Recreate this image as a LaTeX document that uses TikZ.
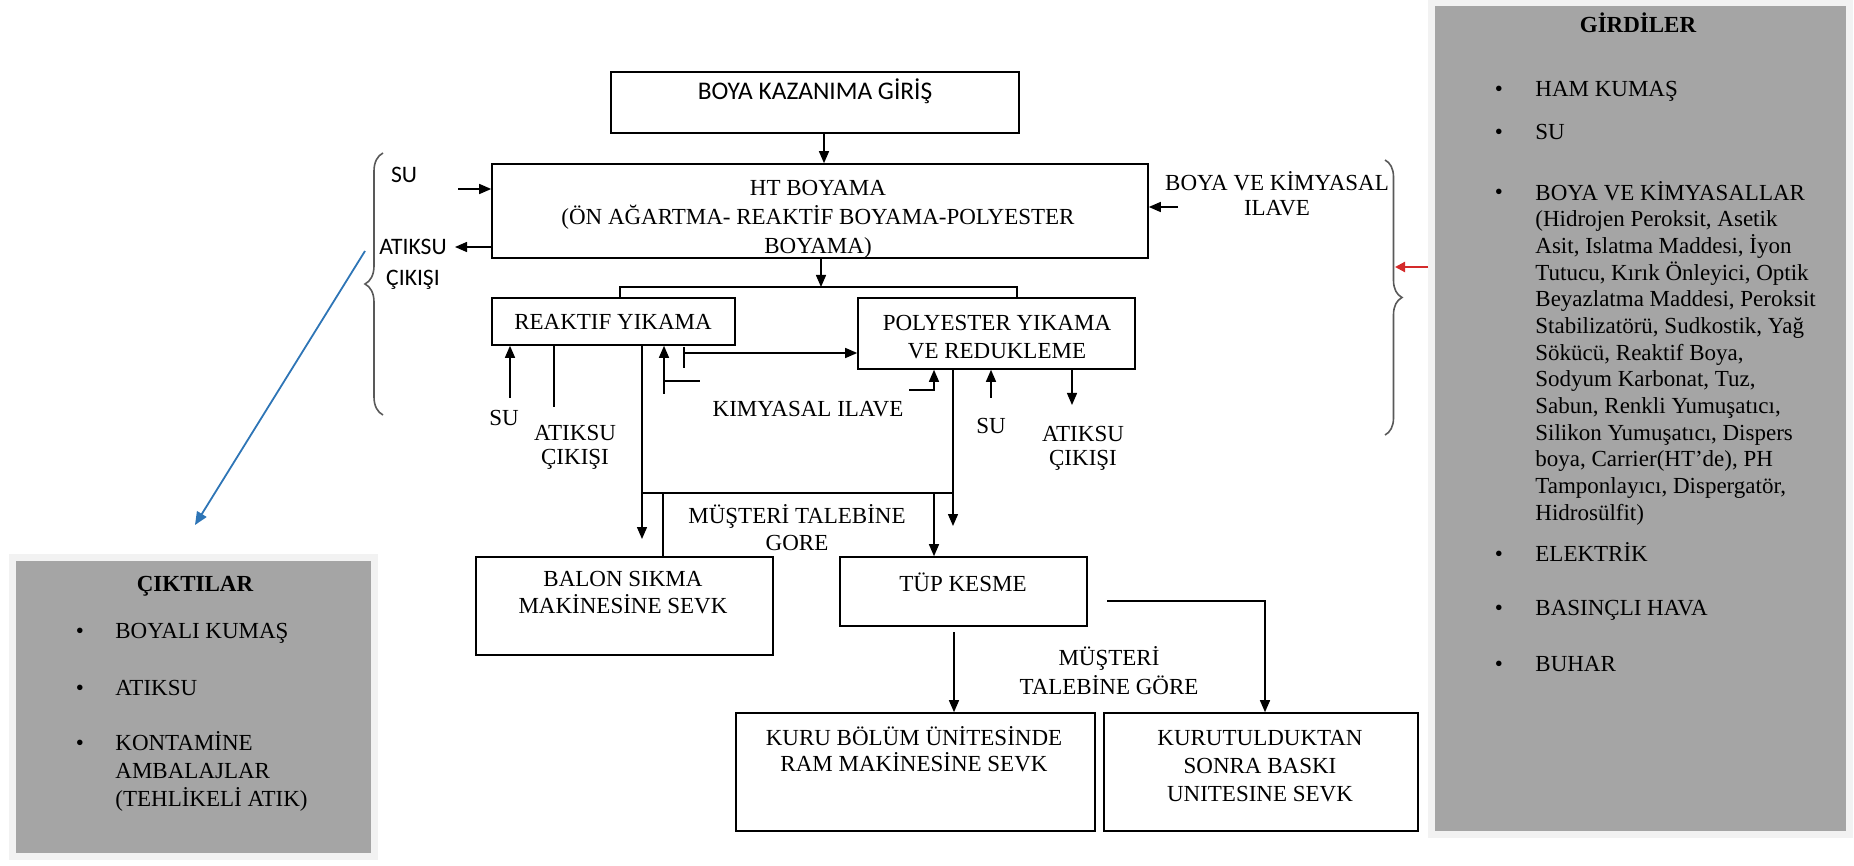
\documentclass[tikz,border=0pt]{standalone}
\usepackage{fontspec}
\setmainfont{Liberation Serif}
\newfontfamily\calibri{Carlito}
\usetikzlibrary{arrows.meta,fit,decorations.pathreplacing,shadows}
\definecolor{panelgray}{HTML}{A5A5A5}
\definecolor{framegray}{HTML}{F2F2F2}
\definecolor{bracegray}{HTML}{595959}
\definecolor{bluearr}{HTML}{2E75B6}
\definecolor{redarr}{HTML}{D42A2A}
\begin{document}
\begin{tikzpicture}[x=0.5pt,y=-0.5pt,
  box/.style={draw=black,line width=0.8pt,inner sep=0pt},
  panel/.style={fill=panelgray,draw=framegray,line width=3.5pt,inner sep=0pt,
    drop shadow={shadow xshift=1.5pt,shadow yshift=-1.5pt,fill=black!30,opacity=1}},
  txt/.style={font=\fontsize{11.5}{14}\selectfont,align=center,inner sep=0pt,anchor=base},
  btxt/.style={txt,font=\fontsize{11.5}{14}\selectfont\bfseries},
  ltxt/.style={txt,align=left,anchor=base west,font=\fontsize{11.5}{13.33}\selectfont},
  ctxt/.style={txt,font=\calibri\fontsize{11.8}{14}\selectfont},
  conn/.style={line width=0.7pt},
  arr/.style={conn,-{Triangle[length=6pt,width=5pt]}},
  brc/.style={draw=bracegray,line width=0.8pt,decorate,decoration={brace,amplitude=9pt}},
  bluearrow/.style={draw=bluearr,line width=0.9pt,-{Triangle[length=6.5pt,width=5.5pt]}},
  redarrow/.style={draw=redarr,line width=1.1pt,-{Triangle[length=5pt,width=5pt]}}
]
\useasboundingbox (0,0) rectangle (1854,866);

% ---------- panels ----------
\node[panel,fit={(12.5,557.5)(374.5,856.5)}] (cikti) {};
\node[panel,fit={(1431.5,3)(1849.5,834.5)}] (girdi) {};

% GIRDILER (multi-line nodes: base = baseline of last line)
\node[btxt] (gt) at (1638,33) {GİRDİLER};
\node[txt] (gb1) at (1499,97) {•};
\node[txt] (gb2) at (1499,140) {•};
\node[txt] (gb3) at (1499,200) {•};
\node[txt] (gb4) at (1499,561) {•};
\node[txt] (gb5) at (1499,615) {•};
\node[txt] (gb6) at (1499,671) {•};
\node[ltxt] (gi1) at (1535,97) {HAM KUMAŞ};
\node[ltxt] (gi2) at (1535,140) {SU};
\node[ltxt] (gi3) at (1535,520) {BOYA VE KİMYASALLAR\\(Hidrojen Peroksit, Asetik\\Asit, Islatma Maddesi, İyon\\Tutucu, Kırık Önleyici, Optik\\Beyazlatma Maddesi, Peroksit\\Stabilizatörü, Sudkostik, Yağ\\Sökücü, Reaktif Boya,\\Sodyum Karbonat, Tuz,\\Sabun, Renkli Yumuşatıcı,\\Silikon Yumuşatıcı, Dispers\\boya, Carrier(HT’de), PH\\Tamponlayıcı, Dispergatör,\\Hidrosülfit)};
\node[ltxt] (gi4) at (1535,561) {ELEKTRİK};
\node[ltxt] (gi5) at (1535,615) {BASINÇLI HAVA};
\node[ltxt] (gi6) at (1535,671) {BUHAR};

% CIKTILAR
\node[btxt] (ct) at (195,591) {ÇIKTILAR};
\node[txt] (cb1) at (80,638) {•};
\node[txt] (cb2) at (80,695) {•};
\node[txt] (cb3) at (80,750) {•};
\node[ltxt] (ci1) at (115,638) {BOYALI KUMAŞ};
\node[ltxt] (ci2) at (115,695) {ATIKSU};
\node[ltxt,font=\fontsize{11.5}{14}\selectfont] (ci3) at (115,806) {KONTAMİNE\\AMBALAJLAR\\(TEHLİKELİ ATIK)};

% ---------- boxes ----------
\node[box,fit={(611,72)(1019,133)}] (kazan) {};
\node[box,fit={(492,164)(1148,258)}] (ht) {};
\node[box,fit={(492,298)(735,345)}] (rk) {};
\node[box,fit={(858,298)(1135,369)}] (py) {};
\node[box,fit={(476,557)(773,655)}] (balon) {};
\node[box,fit={(840,557)(1087,626)}] (tup) {};
\node[box,fit={(736,713)(1095,831)}] (kuru) {};
\node[box,fit={(1104,713)(1418,831)}] (kurut) {};

% box texts
\node[ctxt,font=\calibri\fontsize{12.7}{14}\selectfont] (tkazan) at (815,100) {BOYA KAZANIMA GİRİŞ};
\node[txt,font=\fontsize{11.5}{14.5}\selectfont] (tht) at (818,254) {HT BOYAMA\\(ÖN AĞARTMA- REAKTİF BOYAMA-POLYESTER\\BOYAMA)};
\node[txt] (trk) at (613,330) {REAKTIF YIKAMA};
\node[txt,font=\fontsize{11.5}{13.5}\selectfont] (tpy) at (997,358) {POLYESTER YIKAMA\\VE REDUKLEME};
\node[txt,font=\fontsize{11.5}{13.5}\selectfont] (tbalon) at (623,613) {BALON SIKMA\\MAKİNESİNE SEVK};
\node[txt] (ttup) at (963,591) {TÜP KESME};
\node[txt,font=\fontsize{11.5}{13}\selectfont] (tkuru) at (914,771) {KURU BÖLÜM ÜNİTESİNDE\\RAM MAKİNESİNE SEVK};
\node[txt] (tkurut) at (1260,801) {KURUTULDUKTAN\\SONRA BASKI\\UNITESINE SEVK};

% side labels
\node[ctxt] (lsu) at (404,183) {SU};
\node[ctxt] (latik) at (413,255) {ATIKSU};
\node[ctxt] (lcik) at (413,286) {ÇIKIŞI};
\node[txt,font=\fontsize{11.5}{12.5}\selectfont] (lboya) at (1277,216) {BOYA VE KİMYASAL\\ILAVE};
\node[txt] (lsu2) at (504,425) {SU};
\node[txt,font=\fontsize{11.5}{12.5}\selectfont] (latik2) at (575,465) {ATIKSU\\ÇIKIŞI};
\node[txt] (lkim) at (808,416) {KIMYASAL ILAVE};
\node[txt] (lsu3) at (991,433) {SU};
\node[txt,font=\fontsize{11.5}{12.5}\selectfont] (latik3) at (1083,466) {ATIKSU\\ÇIKIŞI};
\node[txt,font=\fontsize{11.5}{13.5}\selectfont] (lmust1) at (797,550) {MÜŞTERİ TALEBİNE\\GORE};
\node[txt,font=\fontsize{11.5}{14.5}\selectfont] (lmust2) at (1109,694) {MÜŞTERİ\\TALEBİNE GÖRE};

% ---------- braces ----------
\draw[brc] (383,415) -- (383,153);
\draw[brc,decoration={brace,amplitude=8.5pt}] (1385,160) -- (1385,435);

% ---------- connectors ----------
\draw[arr] (824,0 |- kazan.south) -- (824,0 |- ht.north);
\draw[arr] (458,189) -- (ht.west |- 0,189);
\draw[arr] (ht.west |- 0,247) -- (455,247);
\draw[arr] (1178,207) -- (ht.east |- 0,207);
\draw[arr] (821,0 |- ht.south) -- (821,287);
\draw[conn] (620,0 |- rk.north) -- (620,287) -- (1017,287) -- (1017,0 |- py.north);

\draw[arr] (510,398) -- (510,0 |- rk.south);
\draw[conn] (554,0 |- rk.south) -- (554,407);
\draw[arr] (642,0 |- rk.south) -- (642,539);
\draw[arr] (664,394) -- (664,0 |- rk.south);
\draw[conn] (664,381) -- (700,381);
\draw[conn] (684,347) -- (684,368);
\draw[arr] (684,353) -- (py.west |- 0,353);
\draw[arr] (909,390) -- (934,390) -- (934,0 |- py.south);
\draw[arr] (953,0 |- py.south) -- (953,526);
\draw[arr] (991,398) -- (991,0 |- py.south);
\draw[arr] (1072,0 |- py.south) -- (1072,405);

\draw[conn] (641,493) -- (953,493);
\draw[conn] (663,493) -- (663,0 |- balon.north);
\draw[arr] (934,493) -- (934,0 |- tup.north);
\draw[arr] (954,632) -- (954,0 |- kuru.north);
\draw[arr] (1107,601) -- (1265,601) -- (1265,0 |- kurut.north);

% coloured arrows
\coordinate (bstart) at (365,251);
\coordinate (bend) at (195,525);
\draw[bluearrow] (bstart) -- (bend);
\draw[redarrow] (girdi.west |- 0,267) -- (1395,267);
\end{tikzpicture}
\end{document}
